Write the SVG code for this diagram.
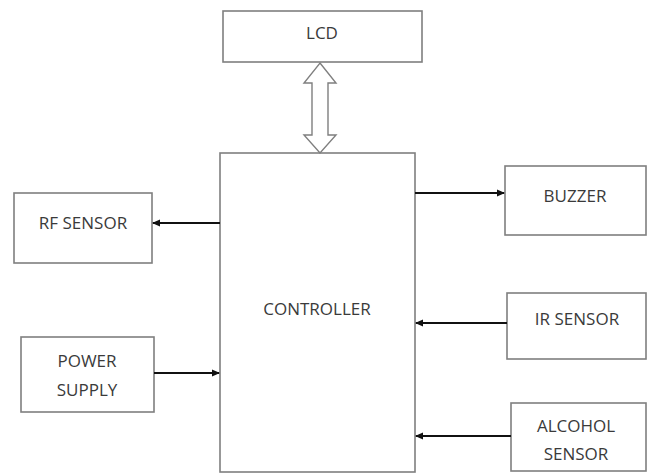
<svg xmlns="http://www.w3.org/2000/svg" width="647" height="473" viewBox="0 0 647 473">
<style>
.box{fill:#fff;stroke:#7f7f7f;stroke-width:1.6}
.lbl{font-family:"Open Sans","Liberation Sans",Arial,sans-serif;font-size:17px;fill:#3a3a3a;text-anchor:middle;dominant-baseline:central}
.conn{stroke:#111;stroke-width:2;fill:none;marker-end:url(#ah)}
</style>
<defs>
<marker id="ah" markerWidth="8" markerHeight="8" refX="7" refY="4" orient="auto" markerUnits="userSpaceOnUse">
<path d="M0,0.5 L8,4 L0,7.5 Z" fill="#111"/>
</marker>
</defs>
<rect width="647" height="473" fill="#fff"/>
<g id="lcd"><rect class="box" x="223" y="11" width="199" height="51"/><text class="lbl" x="322" y="32">LCD</text></g>
<g id="controller"><rect class="box" x="220" y="153" width="195" height="319"/><text class="lbl" x="317" y="308">CONTROLLER</text></g>
<g id="rf-sensor"><rect class="box" x="14" y="193" width="138" height="70"/><text class="lbl" x="83" y="222">RF SENSOR</text></g>
<g id="power-supply"><rect class="box" x="21" y="337" width="133" height="75"/><text class="lbl" x="87" y="360">POWER</text><text class="lbl" x="87" y="389">SUPPLY</text></g>
<g id="buzzer"><rect class="box" x="505" y="166" width="141" height="69"/><text class="lbl" x="575" y="195">BUZZER</text></g>
<g id="ir-sensor"><rect class="box" x="507" y="293" width="139" height="66"/><text class="lbl" x="577" y="318">IR SENSOR</text></g>
<g id="alcohol-sensor"><rect class="box" x="511" y="403" width="135" height="68"/><text class="lbl" x="576" y="425">ALCOHOL</text><text class="lbl" x="576" y="453">SENSOR</text></g>
<g id="connectors">
<path d="M320,63 L336,83 L328,83 L328,135 L336,135 L320,153 L304,135 L312,135 L312,83 L304,83 Z" fill="#fff" stroke="#7f7f7f" stroke-width="1.4" stroke-linejoin="miter"/>
<line class="conn" x1="220" y1="223" x2="153" y2="223"/>
<line class="conn" x1="154" y1="373" x2="219" y2="373"/>
<line class="conn" x1="415" y1="193" x2="504" y2="193"/>
<line class="conn" x1="507" y1="323" x2="416" y2="323"/>
<line class="conn" x1="511" y1="436" x2="416" y2="436"/>
</g>
</svg>
